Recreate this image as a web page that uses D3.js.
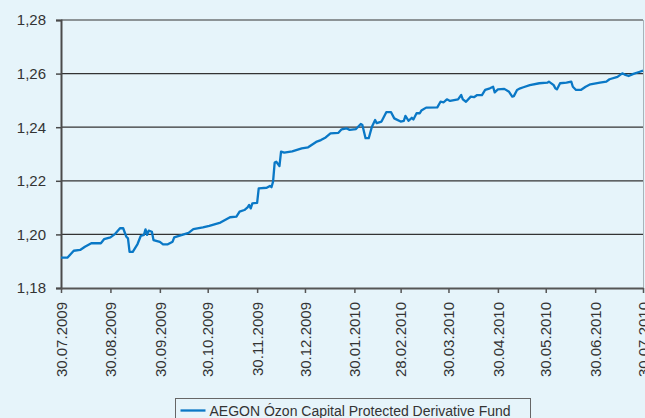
<!DOCTYPE html>
<html>
<head>
    <meta charset="utf-8">
    <title>AEGON Ozon</title>
    <style>
        body { margin: 0; background: #e6f4fa; }
        text { font-family: "Liberation Sans", Arial, sans-serif; fill: #333; }
    </style>
</head>
<body>
    <script src='https://d3js.org/d3.v7.min.js'></script>
    <script>
    // fund price
    const dates = [
        "2009-07-30", "2009-08-03", "2009-08-07", "2009-08-11", "2009-08-14", "2009-08-18", "2009-08-24", "2009-08-26",
        "2009-08-30", "2009-09-02", "2009-09-05", "2009-09-07", "2009-09-09", "2009-09-10", "2009-09-11", "2009-09-13",
        "2009-09-16", "2009-09-18", "2009-09-20", "2009-09-21", "2009-09-22", "2009-09-23", "2009-09-25", "2009-09-26",
        "2009-09-30", "2009-10-02", "2009-10-05", "2009-10-08", "2009-10-09", "2009-10-14", "2009-10-18", "2009-10-21",
        "2009-10-27", "2009-10-31", "2009-11-07", "2009-11-13", "2009-11-17", "2009-11-19", "2009-11-22", "2009-11-24",
        "2009-11-25", "2009-11-26", "2009-11-27", "2009-11-30", "2009-12-01", "2009-12-06", "2009-12-08", "2009-12-09",
        "2009-12-10", "2009-12-11", "2009-12-12", "2009-12-14", "2009-12-15", "2009-12-17", "2009-12-22", "2009-12-28",
        "2010-01-01", "2010-01-06", "2010-01-09", "2010-01-12", "2010-01-15", "2010-01-20", "2010-01-22", "2010-01-25",
        "2010-01-27", "2010-01-31", "2010-02-03", "2010-02-04", "2010-02-06", "2010-02-08", "2010-02-10", "2010-02-12",
        "2010-02-13", "2010-02-16", "2010-02-19", "2010-02-22", "2010-02-24", "2010-02-28", "2010-03-02", "2010-03-03",
        "2010-03-05", "2010-03-07", "2010-03-08", "2010-03-10", "2010-03-12", "2010-03-13", "2010-03-16", "2010-03-23",
        "2010-03-25", "2010-03-27", "2010-03-29", "2010-03-31", "2010-04-05", "2010-04-07", "2010-04-08", "2010-04-10",
        "2010-04-13", "2010-04-15", "2010-04-17", "2010-04-20", "2010-04-22", "2010-04-25", "2010-04-27", "2010-04-28",
        "2010-04-30", "2010-05-04", "2010-05-07", "2010-05-09", "2010-05-10", "2010-05-12", "2010-05-14", "2010-05-16",
        "2010-05-20", "2010-05-26", "2010-05-31", "2010-06-01", "2010-06-04", "2010-06-05", "2010-06-06", "2010-06-08",
        "2010-06-12", "2010-06-15", "2010-06-16", "2010-06-18", "2010-06-21", "2010-06-24", "2010-06-27", "2010-07-03",
        "2010-07-07", "2010-07-09", "2010-07-14", "2010-07-17", "2010-07-19", "2010-07-21", "2010-07-24", "2010-07-28",
        "2010-07-30"
    ];
    const prices = [
        1.1913, 1.1913, 1.1939, 1.1942, 1.1954, 1.1967, 1.1967, 1.1982,
        1.1989, 1.2002, 1.2023, 1.2023, 1.1991, 1.1985, 1.1935, 1.1935,
        1.1964, 1.1994, 1.1998, 1.2019, 1.1998, 1.2014, 1.2010, 1.1979,
        1.1972, 1.1963, 1.1963, 1.1973, 1.1989, 1.1998, 1.2006, 1.2020,
        1.2026, 1.2032, 1.2044, 1.2064, 1.2066, 1.2085, 1.2091, 1.2101,
        1.2110, 1.2097, 1.2116, 1.2118, 1.2172, 1.2174, 1.2181, 1.2176,
        1.2197, 1.2268, 1.2271, 1.2255, 1.2309, 1.2305, 1.2310, 1.2321,
        1.2325, 1.2345, 1.2352, 1.2362, 1.2377, 1.2379, 1.2392, 1.2396,
        1.2390, 1.2393, 1.2412, 1.2408, 1.2359, 1.2359, 1.2402, 1.2427,
        1.2415, 1.2421, 1.2456, 1.2456, 1.2433, 1.2421, 1.2424, 1.2442,
        1.2424, 1.2435, 1.2429, 1.2452, 1.2452, 1.2462, 1.2473, 1.2474,
        1.2495, 1.2493, 1.2504, 1.2498, 1.2504, 1.2520, 1.2504, 1.2495,
        1.2514, 1.2512, 1.2520, 1.2520, 1.2539, 1.2545, 1.2551, 1.2530,
        1.2541, 1.2543, 1.2532, 1.2514, 1.2516, 1.2539, 1.2545, 1.2549,
        1.2557, 1.2564, 1.2566, 1.2570, 1.2557, 1.2545, 1.2541, 1.2564,
        1.2566, 1.2570, 1.2551, 1.2539, 1.2539, 1.2551, 1.2560, 1.2566,
        1.2570, 1.2579, 1.2588, 1.2601, 1.2595, 1.2591, 1.2599, 1.2607,
        1.2611
    ];
    const tickDates = [
        "2009-07-30", "2009-08-30", "2009-09-30", "2009-10-30", "2009-11-30", "2009-12-30",
        "2010-01-30", "2010-02-28", "2010-03-30", "2010-04-30", "2010-05-30", "2010-06-30", "2010-07-30"
    ];
    const yTicks = [1.18, 1.20, 1.22, 1.24, 1.26, 1.28];
    const seriesName = "AEGON Ózon Capital Protected Derivative Fund";

    const width = 645;
    const height = 418;
    var mLeft = 61, mRight = 643, mTop = 20, mBottom = 288;
    var parse = d3.timeParse("%Y-%m-%d");
    var fmt = d3.timeFormat("%d.%m.%Y");
    var lineColor = "#0a78c6";

    var data = dates.map(function(d, i) { return { date: parse(d), value: prices[i] }; });

    var x = d3.scaleTime()
        .domain([parse(tickDates[0]), parse(tickDates[tickDates.length - 1])])
        .range([mLeft, mRight]);

    var y = d3.scaleLinear()
        .domain([1.18, 1.28])
        .range([mBottom, mTop]);

    var svg = d3.select("body")
        .append("svg")
        .attr("width", width)
        .attr("height", height);

    svg.append("rect")
        .attr("width", width)
        .attr("height", height)
        .attr("fill", "#e6f4fa");

    // gridlines
    svg.append("g")
        .selectAll("line")
        .data(yTicks.slice(1))
        .enter()
        .append("line")
        .attr("x1", mLeft)
        .attr("x2", mRight)
        .attr("y1", function(d) { return y(d); })
        .attr("y2", function(d) { return y(d); })
        .attr("stroke", "#333")
        .attr("stroke-width", 1.2);

    // right border
    svg.append("line")
        .attr("x1", mRight + 0.5)
        .attr("x2", mRight + 0.5)
        .attr("y1", mTop)
        .attr("y2", mBottom)
        .attr("stroke", "#a9b4ba")
        .attr("stroke-width", 1);

    var yAxis = svg.append("g")
        .attr("transform", "translate(" + mLeft + ",0)")
        .call(d3.axisLeft(y)
            .tickValues(yTicks)
            .tickSize(5)
            .tickPadding(10)
            .tickFormat(function(d) { return d3.format(".2f")(d).replace(".", ","); }));
    yAxis.select(".domain").attr("stroke", "#4a4a4a").attr("stroke-width", 2);
    yAxis.selectAll(".tick line").attr("stroke", "#4a4a4a").attr("stroke-width", 1.5);
    yAxis.selectAll("text")
        .style("font-size", "15px")
        .attr("fill", "#333");

    var xAxis = svg.append("g")
        .attr("transform", "translate(0," + mBottom + ")")
        .call(d3.axisBottom(x)
            .tickValues(tickDates.map(parse))
            .tickSize(5)
            .tickSizeOuter(0)
            .tickFormat(fmt));
    xAxis.select(".domain").attr("stroke", "#555").attr("stroke-width", 2);
    xAxis.selectAll(".tick line").attr("stroke", "#555").attr("stroke-width", 1.5);
    xAxis.selectAll("text")
        .style("font-size", "15px")
        .attr("fill", "#333")
        .attr("transform", "rotate(-90)")
        .attr("x", -14)
        .attr("y", 0)
        .attr("dy", "0.35em")
        .style("text-anchor", "end");

    var line = d3.line()
        .x(function(d) { return x(d.date); })
        .y(function(d) { return y(d.value); });

    svg.append("path")
        .datum(data)
        .attr("d", line)
        .attr("fill", "none")
        .attr("stroke", lineColor)
        .attr("stroke-width", 2.3)
        .attr("stroke-linejoin", "round");

    // legend
    var lg = svg.append("g").attr("transform", "translate(175.5,398.5)");
    lg.append("rect")
        .attr("width", 355)
        .attr("height", 30)
        .attr("fill", "none")
        .attr("stroke", "#666");
    lg.append("line")
        .attr("x1", 5).attr("x2", 30)
        .attr("y1", 12).attr("y2", 12)
        .attr("stroke", lineColor)
        .attr("stroke-width", 2.3);
    lg.append("text")
        .attr("x", 34)
        .attr("y", 17)
        .style("font-size", "14px")
        .text(seriesName);
    </script>
</body>
</html>
